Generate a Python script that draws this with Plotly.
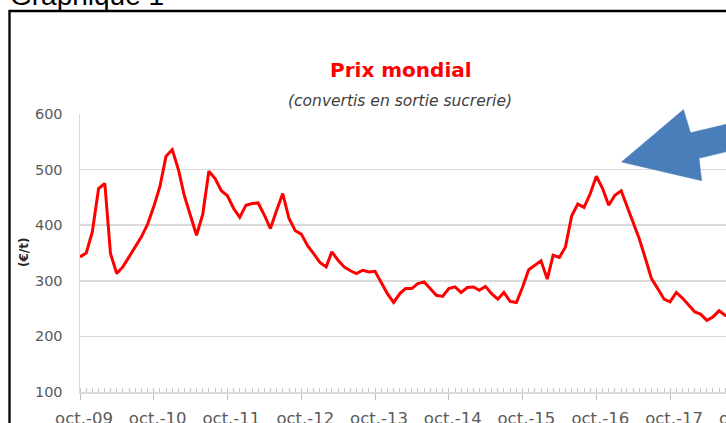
import plotly.graph_objects as go
import pandas as pd

# ---------------- data ----------------
mois_debut = "2009-10-01"
prix = [
    343, 350, 388, 466, 475, 349, 313, 325, 343, 361,
    379, 402, 433, 470, 524, 536, 499, 454, 418, 382,
    420, 497, 484, 462, 453, 430, 414, 436, 439, 440,
    418, 394, 427, 457, 412, 390, 384, 363, 349, 333,
    325, 352, 337, 325, 318, 313, 319, 316, 317, 298,
    277, 261, 277, 286, 286, 295, 298, 286, 274, 272,
    286, 289, 279, 288, 289, 283, 290, 277, 267, 279,
    263, 261, 288, 320, 328, 336, 303, 346, 342, 361,
    417, 438, 432, 457, 488, 466, 436, 454, 462, 436,
    406, 376, 340, 304, 286, 267, 262, 279, 269, 256,
    244, 240, 229, 235, 246, 238, 235,
]
tick_dates = ["2009-10-01", "2010-10-01", "2011-10-01", "2012-10-01", "2013-10-01",
              "2014-10-01", "2015-10-01", "2016-10-01", "2017-10-01"]
tick_labels = ["oct.-09", "oct.-10", "oct.-11", "oct.-12", "oct.-13",
               "oct.-14", "oct.-15", "oct.-16", "oct.-17"]
label_suivant = "oct.-18"
y_ticks = [100, 200, 300, 400, 500, 600]
titre = "Prix mondial"
sous_titre = "(convertis en sortie sucrerie)"
titre_y = "(€/t)"
entete = "Graphique 1"

dates = pd.date_range(mois_debut, periods=len(prix), freq="MS")

# ---------------- layout helpers ----------------
W, H = 726, 423
L, R, T, B = 80, 0, 114, 31
PW, PH = W - L - R, H - T - B


def px(x):
    return (x - L) / PW


def py(y):
    return (H - B - y) / PH


GRID = "#d9d9d9"
TXT = "#595959"
XFONT = 16.5

fig = go.Figure()
fig.add_trace(go.Scatter(
    x=dates, y=prix, mode="lines",
    line=dict(color="#ff0000", width=3),
    hoverinfo="skip", showlegend=False,
))

# arrow (block arrow pointing at the 2016 peak)
arrow_px = [(621.5, 162), (683.5, 109.5), (690.5, 132.8), (780, 111.5),
            (780, 139), (699, 158.3), (701.7, 180.7)]
path = "M " + " L ".join(f"{px(a):.5f},{py(b):.5f}" for a, b in arrow_px) + " Z"

shapes = [
    dict(type="rect", xref="paper", yref="paper",
         x0=px(9.5), y0=py(11), x1=px(950), y1=py(700),
         line=dict(color="black", width=2.3), fillcolor="rgba(0,0,0,0)", layer="above"),
    dict(type="path", xref="paper", yref="paper", path=path,
         fillcolor="#4a7ebb", line=dict(color="#4a7ebb", width=0.5), layer="above"),
]

annotations = [
    dict(text=f"<b>{titre}</b>", x=px(401), y=py(70), xref="paper", yref="paper",
         showarrow=False, xanchor="center", yanchor="middle",
         font=dict(family="DejaVu Sans", size=20, color="#ff0000")),
    dict(text=f"<i>{sous_titre}</i>", x=px(400), y=py(101), xref="paper", yref="paper",
         showarrow=False, xanchor="center", yanchor="middle",
         font=dict(family="DejaVu Sans", size=15.5, color="#404040")),
    dict(text=f"<b>{titre_y}</b>", x=px(24), y=py(253), xref="paper", yref="paper",
         showarrow=False, xanchor="center", yanchor="middle", textangle=-90,
         font=dict(family="DejaVu Sans", size=12, color="#262626")),
    dict(text=entete, x=px(8), y=py(-5), xref="paper", yref="paper",
         showarrow=False, xanchor="left", yanchor="middle",
         font=dict(family="Liberation Sans", size=28, color="black")),
    dict(text=label_suivant, x=px(80 + 9 * 73.75 + 4), y=py(418), xref="paper", yref="paper",
         showarrow=False, xanchor="center", yanchor="middle",
         font=dict(family="DejaVu Sans", size=XFONT, color=TXT)),
]

fig.update_layout(
    width=W, height=H, autosize=False,
    margin=dict(l=L, r=R, t=T, b=B, pad=0, autoexpand=False),
    paper_bgcolor="white", plot_bgcolor="white",
    shapes=shapes, annotations=annotations,
    xaxis=dict(
        type="date", range=["2009-10-01", "2018-07-05"], automargin=False,
        tickmode="array", tickvals=tick_dates, ticktext=tick_labels,
        ticks="outside", ticklen=6, tickcolor="#bfbfbf", tickwidth=1,
        showline=True, linecolor=GRID, linewidth=1.5,
        showgrid=False, zeroline=False,
        minor=dict(tickmode="array", tickvals=list(dates), ticks="inside",
                   ticklen=4, tickcolor="#c8c8c8", tickwidth=1, showgrid=False),
        tickfont=dict(family="DejaVu Sans", size=XFONT, color=TXT),
        ticklabelshift=4, ticklabelstandoff=5,
    ),
    yaxis=dict(
        range=[100, 600], tickmode="array", tickvals=y_ticks, automargin=False,
        showgrid=True, gridcolor=GRID, gridwidth=1.5,
        showline=True, linecolor=GRID, linewidth=1.5,
        zeroline=False, ticks="",
        tickfont=dict(family="DejaVu Sans", size=14.5, color=TXT),
        ticklabelstandoff=13,
    ),
)

fig.write_html(
    "out.html",
    config={"displayModeBar": False, "staticPlot": True},
    post_script="document.body.style.margin='0';document.body.style.overflow='hidden';",
)
